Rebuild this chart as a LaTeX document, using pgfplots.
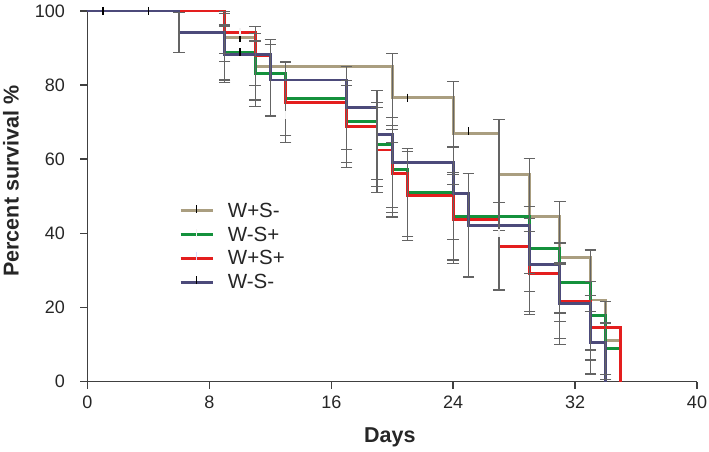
\documentclass[border=0pt]{standalone}
\usepackage{fontspec}
\setmainfont{Liberation Sans}
\usepackage{pgfplots}
\pgfplotsset{compat=1.18}
\definecolor{cbeige}{RGB}{170,158,128}
\definecolor{cgreen}{RGB}{20,145,60}
\definecolor{cred}{RGB}{228,30,30}
\definecolor{cblue}{RGB}{76,74,122}
\definecolor{cerr}{RGB}{100,100,100}
\definecolor{caxis}{RGB}{64,64,64}
\pgfplotsset{
  errbar/.style={draw=none, mark=none, forget plot,
    error bars/.cd, y dir=both, y explicit, error mark=|,
    error bar style={draw=cerr, line width=1.2pt},
    error mark options={draw=cerr, line width=1.2pt, mark size=5.8pt}},
  curve/.style={const plot, line width=2.8pt, mark=none},
}
\begin{document}
\begin{tikzpicture}
\useasboundingbox (-87.5pt,-70.5pt) rectangle (621.5pt,381.5pt);
\begin{axis}[
  at={(0pt,0pt)}, anchor=south west,
  scale only axis, width=609.5pt, height=370.5pt,
  xmin=0, xmax=40, ymin=0, ymax=100,
  clip=false,
  axis x line*=bottom, axis y line*=left,
  xtick={0,8,...,40}, ytick={0,20,...,100},
  tick align=outside, major tick length=7pt,
  axis line style={caxis, line width=1.8pt},
  tick style={caxis, line width=1.5pt},
  /pgf/number format/assume math mode=true,
  tick label style={font=\fontsize{18}{18}\selectfont, text=black!85},
  xticklabel style={yshift=-4pt},
  yticklabel style={xshift=-12pt},
  xlabel={Days}, ylabel={Percent survival \%},
  label style={font=\bfseries\fontsize{21.5}{21.5}\selectfont, text=black!85},
  xlabel style={at={(axis description cs:0.496,-0.1498)}, anchor=center},
  ylabel style={at={(axis description cs:-0.1255,0.541)}, anchor=center},
  legend style={at={(axis description cs:0.150,0.488)}, anchor=north west,
    draw=none, fill=none, inner sep=0pt,
    font=\fontsize{20.5}{20.5}\selectfont, text=black!85, row sep=4pt,
    /tikz/every odd column/.append style={column sep=12pt}},
  legend cell align=left,
]
% survival curves
\addplot[curve, cbeige, legend image code/.code={
  \draw[line width=2.8pt, cbeige] (0pt,0pt) -- (32pt,0pt);
  \draw[line width=1.6pt, black] (16pt,-2pt) -- (16pt,6pt);}]
 coordinates {(0,100) (9,92.8) (11,85.0) (20,76.6) (24,67.0) (27,55.8) (29,44.6)
  (31,33.5) (33,22.0) (34,11.0) (35,0)};
\addlegendentry{W+S-}
\addplot[curve, cgreen, legend image code/.code={
  \draw[line width=2.8pt, cgreen] (0pt,0pt) -- (32pt,0pt);
  \draw[line width=1.6pt, white!90!gray] (16pt,-2pt) -- (16pt,6pt);}]
 coordinates {(0,100) (6,94.2) (9,88.8) (11,83.1) (13,76.4) (17,70.2) (19,64.0)
  (20,57.3) (21,51.0) (24,44.6) (29,35.8) (31,26.8) (33,17.8) (34,8.8) (35,0)};
\addlegendentry{W-S+}
\addplot[curve, cred, legend image code/.code={
  \draw[line width=2.8pt, cred] (0pt,0pt) -- (32pt,0pt);
  \draw[line width=1.6pt, white!85!blue] (16pt,-2pt) -- (16pt,6pt);}]
 coordinates {(0,100) (9,94.2) (11,87.9) (12,81.4) (13,75.3) (17,68.8) (19,62.5)
  (20,56.2) (21,50.1) (24,43.8) (27,36.5) (29,29.2) (31,21.6) (33,14.5) (35,0)};
\addlegendentry{W+S+}
\addplot[curve, cblue, legend image code/.code={
  \draw[line width=2.8pt, cblue] (0pt,0pt) -- (32pt,0pt);
  \draw[line width=1.6pt, black] (16pt,-2pt) -- (16pt,6pt);}]
 coordinates {(0,100) (6,94.2) (9,88.3) (12,81.4) (17,73.9) (19,66.6) (20,59.1)
  (24,50.8) (25,42.2) (29,31.5) (31,21.0) (33,10.5) (34,0)};
\addlegendentry{W-S-}
% error bars
\addplot[errbar] coordinates {
 (9,92.8) +- (0,6.5) (11,85.0) +- (0,9.0) (20,76.6) +- (0,12.0) (24,67.0) +- (0,13.9)
 (27,55.8) +- (0,15.0) (29,44.6) +- (0,15.5) (31,33.5) +- (0,15.0) (33,22.0) +- (0,13.5)
 (34,11.0) +- (0,10.5)
};
\addplot[errbar] coordinates {
 (6,94.2) +- (0,5.4) (9,88.8) +- (0,7.4) (11,83.1) +- (0,8.8) (13,76.4) +- (0,10.0)
 (17,70.2) +- (0,11.0) (19,64.0) +- (0,11.3) (20,57.3) +- (0,11.7) (21,51.0) +- (0,11.8)
 (24,44.6) +- (0,11.8) (29,35.8) +- (0,11.5) (31,26.8) +- (0,10.6) (33,17.8) +- (0,9.2)
 (34,8.8) +- (0,7.0)
};
\addplot[errbar] coordinates {
 (9,94.2) +- (0,5.7) (11,87.9) +- (0,8.0) (12,81.4) +- (0,9.5) (13,75.3) +- (0,10.7)
 (17,68.8) +- (0,11.0) (19,62.5) +- (0,11.5) (20,56.2) +- (0,11.8) (21,50.1) +- (0,12.0)
 (24,43.8) +- (0,12.0) (27,36.5) +- (0,11.8) (29,29.2) +- (0,11.2) (31,21.6) +- (0,10.0)
 (33,14.5) +- (0,8.7)
};
\addplot[errbar] coordinates {
 (6,94.2) +- (0,5.4) (9,88.3) +- (0,7.5) (12,81.9) +- (0,10.3) (17,73.9) +- (0,11.2)
 (19,66.6) +- (0,12.0) (20,59.1) +- (0,12.2) (24,50.8) +- (0,12.5) (25,42.2) +- (0,14.0)
 (29,31.5) +- (0,12.5) (31,21.0) +- (0,11.0) (33,10.5) +- (0,8.5)
};
% censor marks
\addplot[only marks, forget plot, mark=|, mark size=4pt, mark options={line width=1.6pt, black}]
 coordinates {(1,100) (4,100) (10,92.8) (10,88.8) (21,76.6) (25,67.6)};
\addplot[only marks, forget plot, mark=|, mark size=4pt, mark options={line width=1.6pt, white!90!gray}]
 coordinates {(10,94.2) (13,72.0) (27,40.0)};
\end{axis}
\end{tikzpicture}
\end{document}
